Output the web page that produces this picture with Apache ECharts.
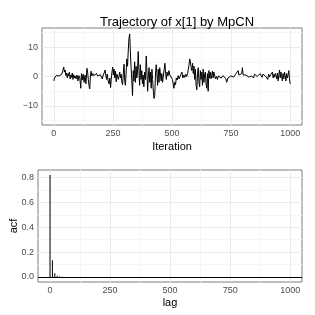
<!DOCTYPE html>
<html><head><meta charset="utf-8">
<script src="https://cdn.jsdelivr.net/npm/echarts@6/dist/echarts.min.js"></script>
<style>html,body{margin:0;padding:0;background:#fff}#c{width:315px;height:315px}</style>
</head><body><div id="c"></div>
<script>
const titleText = "Trajectory of x[1] by MpCN";
const iterations = [0,3,6,10,14,18,22,26,30,34,38,42,45,48,51,54,57,60,63,66,69,72,75,78,81,84,87,90,94,98,102,106,110,114,117,120,124,128,132,136,140,143,146,149,152,155,158,161,165,169,173,177,181,185,189,193,197,201,205,209,213,217,220,223,226,230,234,237,240,243,246,249,252,255,258,261,264,267,270,273,276,279,282,285,288,291,294,297,300,303,306,309,312,315,318,321,324,327,330,333,336,339,342,345,348,351,354,357,360,363,366,369,372,375,378,381,384,388,391,394,397,400,403,406,409,412,415,418,421,424,427,430,433,436,439,442,445,448,451,454,457,460,464,467,470,473,476,479,483,487,491,495,499,502,505,508,511,515,518,522,526,530,534,538,542,546,550,554,558,562,566,569,572,575,578,581,584,587,590,593,596,599,602,605,608,611,614,617,620,623,626,629,632,635,638,641,644,647,650,653,656,659,662,665,668,671,674,677,680,684,688,692,696,700,704,708,712,716,720,724,728,731,734,737,741,745,749,753,757,761,765,769,773,777,780,783,787,791,795,798,801,805,809,813,817,821,825,829,833,837,841,845,849,853,857,861,865,869,873,877,881,885,889,893,897,901,905,909,913,917,921,925,928,931,934,937,940,943,946,949,952,955,958,961,964,967,970,973,976,979,982,985,988,991,994,997,1000];
const traceValues = [-1.5,-0.5,0,0.3,0,0.5,0.2,0.6,0.3,0.8,0.5,3.2,1.5,2.2,0.3,1.2,-0.5,1.0,0.2,1.5,-0.8,0.5,-0.3,1.2,-1.0,0.6,-0.5,0.2,-0.8,0.5,-1.5,0.3,-0.5,-4.0,1.0,-1.2,0.8,-2.0,0.5,-2.5,2.8,1.5,-1.0,-3.2,-4.2,0.5,1.8,0.2,1.0,0.3,0.8,0.4,1.0,0.2,0.8,-0.3,0.6,0.8,-0.8,0.5,1.2,2.2,0.5,-1.0,0.8,-1.5,-2.5,-0.5,-3.8,-1.0,1.5,3.2,0.5,2.5,-0.5,1.8,-1.8,0.8,1.2,-1.0,0.2,1.5,-0.5,0.8,-2.0,-2.8,1.0,4.2,-1.5,-3.0,1.5,6.0,3.5,9.0,13.0,14.5,8.0,3.0,-1.5,-6.5,2.0,-1.5,5.0,-2.0,3.5,-0.5,1.5,8.5,2.0,-3.0,4.0,-1.0,2.0,-2.5,0.5,-3.5,1.5,-1.0,7.0,1.5,-5.0,0.5,3.0,-2.0,1.5,-4.0,2.5,-1.0,-5.0,-7.5,-6.5,0.5,4.0,1.0,-3.0,2.5,-2.0,3.0,3.5,-1.5,1.0,-2.0,0.5,2.5,4.5,1.0,-1.0,1.5,0.2,2.0,0.5,0.0,1.0,-1.0,-2.5,-4.0,-2.0,-2.8,-0.5,-1.2,0.3,-0.8,-0.2,0.8,1.5,-0.5,0.5,-0.3,0.8,0.0,1.0,2.5,4.0,6.0,5.0,3.0,2.0,4.5,1.0,3.5,-1.0,2.5,-3.0,-4.5,1.0,3.0,-2.0,-3.5,2.0,-1.0,1.5,-3.0,2.5,-2.0,0.5,1.5,-2.5,-4.0,1.0,-5.0,2.0,-0.5,1.5,-0.8,0.3,1.8,-0.5,1.5,0.5,-0.8,0.0,-1.0,0.2,-0.3,0.5,-0.5,0.0,0.3,-0.2,0.5,-0.8,-2.0,-1.5,-0.5,0.0,-0.3,0.2,0.0,0.4,-0.2,0.3,0.8,0.2,1.0,2.0,0.5,0.8,0.2,1.0,3.0,0.5,0.8,0.3,0.5,0.2,0.3,-0.2,0.4,-0.3,0.2,0.5,-0.5,0.8,0.2,1.0,0.0,0.6,0.3,1.0,0.5,-0.3,0.8,0.2,1.0,0.0,0.5,-1.0,0.8,-0.2,0.6,0.0,1.5,-0.5,0.8,-0.2,1.0,0.3,-0.8,1.2,-1.5,0.5,2.2,-0.5,1.5,0.0,-1.5,1.0,-0.8,1.5,0.2,-1.5,1.0,-0.5,0.5,2.0,-0.8,-2.5];
const acfLags = [0,10,20,30,40,50];
const acfValues = [0.82,0.135,0.03,0.01,0.004,0.002];
const xTicks = [0,250,500,750,1000];
const xMinor = [125,375,625,875];
const traceYTicks = [-10,0,10];
const traceYMinor = [-15,-5,5,15];
const acfYTicks = [0,0.2,0.4,0.6,0.8];
const acfYMinor = [0.1,0.3,0.5,0.7];

const font = "Liberation Sans, Arial, sans-serif";
const MAJ = '#ebebeb', MIN = '#f6f6f6';
const tickStyle = v => ({show:true, length:3, inside:false, customValues:v, lineStyle:{color:'#7f7f7f'}});
const lbl = (v, f) => ({color:'#4d4d4d', fontSize:9, fontFamily:font, margin:4, customValues:v, formatter:f});
const fmtInt = v => String(v).replace('-', '\u2212');
const fmt1 = v => Number(v).toFixed(1);

function gridLines(xs, ys, color) {
  return [].concat(
    xs.map(v => ({xAxis:v, lineStyle:{color:color}})),
    ys.map(v => ({yAxis:v, lineStyle:{color:color}}))
  );
}
function gridSeries(xi, yi, xMaj, xMin, yMaj, yMin) {
  return {type:'line', xAxisIndex:xi, yAxisIndex:yi, z:0, silent:true, showSymbol:false,
    data:[[xMaj[0], yMaj[0]]], lineStyle:{opacity:0},
    markLine:{silent:true, symbol:'none', label:{show:false}, animation:false,
      lineStyle:{width:1, type:'solid'},
      data:gridLines(xMin, yMin, MIN).concat(gridLines(xMaj, yMaj, MAJ))}};
}

const chart = echarts.init(document.getElementById('c'), null, {renderer:'canvas'});
chart.setOption({
  animation:false,
  backgroundColor:'#fff',
  title:{text:titleText, left:172, top:11, textAlign:'center',
    textStyle:{fontSize:13, fontWeight:'normal', color:'#000', fontFamily:font}},
  grid:[
    {left:42, right:13, top:28, height:97, show:true, borderColor:'#7f7f7f', borderWidth:1, containLabel:false, outerBoundsMode:'none'},
    {left:38, right:13, top:170, height:112, show:true, borderColor:'#7f7f7f', borderWidth:1, containLabel:false, outerBoundsMode:'none'}
  ],
  xAxis:[
    {type:'value', gridIndex:0, min:-50, max:1050,
     name:'Iteration', nameLocation:'middle', nameGap:16,
     nameTextStyle:{fontSize:11, color:'#000', fontFamily:font},
     axisLine:{show:false}, axisTick:tickStyle(xTicks), axisLabel:lbl(xTicks, fmtInt),
     splitLine:{show:false}},
    {type:'value', gridIndex:1, min:-50, max:1049,
     name:'lag', nameLocation:'middle', nameGap:15,
     nameTextStyle:{fontSize:11, color:'#000', fontFamily:font},
     axisLine:{show:false}, axisTick:tickStyle(xTicks), axisLabel:lbl(xTicks, fmtInt),
     splitLine:{show:false}}
  ],
  yAxis:[
    {type:'value', gridIndex:0, min:-16.5, max:16.5,
     axisLine:{show:false}, axisTick:tickStyle(traceYTicks), axisLabel:lbl(traceYTicks, fmtInt),
     splitLine:{show:false}},
    {type:'value', gridIndex:1, min:-0.041, max:0.861,
     name:'acf', nameLocation:'middle', nameGap:19, nameRotate:90, nameMoveOverlap:false,
     nameTextStyle:{fontSize:11, color:'#000', fontFamily:font},
     axisLine:{show:false}, axisTick:tickStyle(acfYTicks), axisLabel:lbl(acfYTicks, fmt1),
     splitLine:{show:false}}
  ],
  series:[
    gridSeries(0, 0, xTicks, xMinor, traceYTicks, traceYMinor),
    gridSeries(1, 1, xTicks, xMinor, acfYTicks, acfYMinor),
    {type:'line', xAxisIndex:0, yAxisIndex:0, showSymbol:false, z:5,
     data:iterations.map((x,i)=>[x, traceValues[i]]),
     lineStyle:{color:'#000', width:1}},
    {type:'bar', xAxisIndex:1, yAxisIndex:1, barWidth:1, z:5,
     data:acfLags.map((x,i)=>[x, acfValues[i]]),
     itemStyle:{color:'#000'},
     markLine:{silent:true, symbol:'none', label:{show:false},
       lineStyle:{color:'#000', width:1, type:'solid'}, data:[{yAxis:0}]}}
  ]
});
</script></body></html>
